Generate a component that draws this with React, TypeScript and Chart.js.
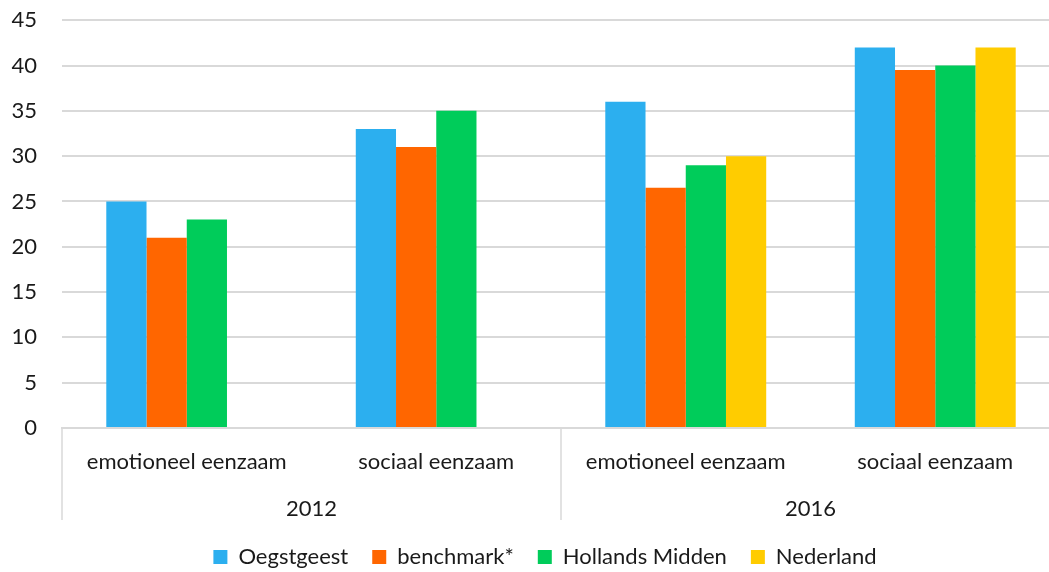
import React, { useEffect, useRef } from "react";
import { Chart, registerables } from "chart.js";

Chart.register(...registerables);

const categories = ["emotioneel eenzaam", "sociaal eenzaam", "emotioneel eenzaam", "sociaal eenzaam"];
const years = ["2012", "2016"];
const oegstgeest = [25, 33, 36, 42];
const benchmark = [21, 31, 26.5, 39.5];
const hollandsMidden = [23, 35, 29, 40];
const nederland = [null, null, 30, 42];
const yTicks = [0, 5, 10, 15, 20, 25, 30, 35, 40, 45];

const FONT = "Lato, 'Open Sans', sans-serif";
const TEXT = "#1a1a1a";
const GRID = "#d9d9d9";

const separators = {
  id: "separators",
  afterLayout(chart: any) {
    if (chart.legend) {
      chart.legend.left += 15;
      chart.legend.right += 15;
    }
  },
  afterDraw(chart: any) {
    const x = chart.scales.x;
    const x2 = chart.scales.x2;
    const ctx = chart.ctx;
    const mid = (x.getPixelForValue(1) + x.getPixelForValue(2)) / 2;
    ctx.save();
    ctx.strokeStyle = GRID;
    ctx.lineWidth = 1.5;
    [x.left, mid].forEach((px: number) => {
      ctx.beginPath();
      ctx.moveTo(px, x.top);
      ctx.lineTo(px, x2.bottom - 2);
      ctx.stroke();
    });
    ctx.restore();
  },
};

export default function App() {
  const ref = useRef<HTMLCanvasElement | null>(null);
  useEffect(() => {
    if (!ref.current) return;
    const chart = new Chart(ref.current, {
      type: "bar",
      data: {
        labels: categories,
        datasets: [
          { label: "Oegstgeest", data: oegstgeest, backgroundColor: "#2CAFEF" },
          { label: "benchmark*", data: benchmark, backgroundColor: "#FF6600" },
          { label: "Hollands Midden", data: hollandsMidden, backgroundColor: "#00CC5A" },
          { label: "Nederland", data: nederland as any, backgroundColor: "#FFCC00" },
        ],
      },
      options: {
        animation: false,
        responsive: true,
        maintainAspectRatio: false,
        layout: { padding: { top: 7, right: 0, bottom: 2, left: 0 } },
        datasets: { bar: { barPercentage: 1.0, categoryPercentage: 0.645 } },
        plugins: {
          tooltip: { enabled: false },
          legend: {
            position: "bottom",
            labels: {
              boxWidth: 14,
              boxHeight: 14,
              padding: 24,
              color: TEXT,
              font: { family: FONT, size: 22 },
            },
          },
        },
        scales: {
          x: {
            type: "category",
            position: "bottom",
            weight: 0,
            grid: { display: false, drawTicks: false },
            border: { display: true, color: GRID, width: 2 },
            ticks: { color: TEXT, font: { family: FONT, size: 22 }, padding: 21, maxRotation: 0 },
            afterFit(scale: any) { scale.height = 62; },
          },
          x2: {
            type: "category",
            position: "bottom",
            weight: 1,
            labels: years,
            offset: true,
            grid: { display: false, drawTicks: false },
            border: { display: false },
            ticks: { color: TEXT, font: { family: FONT, size: 22 }, padding: 6, maxRotation: 0 },
            afterFit(scale: any) { scale.height = 32; },
          },
          y: {
            min: 0,
            max: 45,
            afterBuildTicks(scale: any) { scale.ticks = yTicks.map((v) => ({ value: v })); },
            grid: { color: GRID, lineWidth: 2, drawTicks: false },
            border: { display: false },
            ticks: { color: TEXT, font: { family: FONT, size: 22 }, padding: 25 },
            afterFit(scale: any) { scale.width = 62; },
          },
        },
      },
      plugins: [separators],
    });
    return () => chart.destroy();
  }, []);
  return (
    <div style={{ position: "fixed", left: 0, top: 0, width: 1049, height: 572, overflow: "hidden", background: "#fff" }}>
      <div style={{ position: "absolute", left: 0, top: -18, width: 1060, height: 598 }}>
        <canvas ref={ref} />
      </div>
    </div>
  );
}
